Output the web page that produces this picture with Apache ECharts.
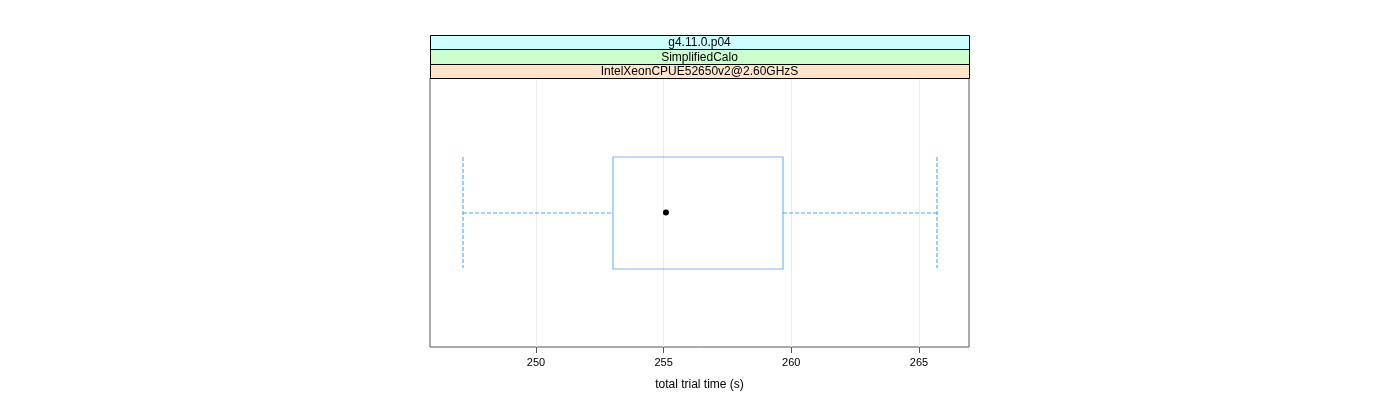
<!DOCTYPE html>
<html>
<head>
<meta charset="utf-8">
<script src="https://cdn.jsdelivr.net/npm/echarts@6/dist/echarts.min.js"></script>
<style>
html,body{margin:0;padding:0;background:#fff;}
#chart{width:1400px;height:400px;}
</style>
</head>
<body>
<div id="chart"></div>
<script>
// ---- data ----
const stripLabels = ['g4.11.0.p04', 'SimplifiedCalo', 'IntelXeonCPUE52650v2@2.60GHzS'];
const stripColors = ['#ccffff', '#ccffcc', '#ffe5cc'];
const lowWhisker = [247.15];
const lowerQuartile = [253.03];
const median = [255.09];
const upperQuartile = [259.67];
const highWhisker = [265.69];
const xTicks = [250, 255, 260, 265];
const xMin = 245.85, xMax = 266.96;
const xTitle = 'total trial time (s)';

const FONT = '"Liberation Sans", Arial, Helvetica, sans-serif';
const L = 430, W = 539, TOP = 78, H = 269, STRIP_TOP = 35;

const boxData = lowWhisker.map((v, i) => [v, lowerQuartile[i], median[i], upperQuartile[i], highWhisker[i], 0.5]);

const chart = echarts.init(document.getElementById('chart'), null, {renderer: 'canvas'});

const graphics = [];
const stripH = [14, 15, 14];
let y = STRIP_TOP;
for (let i = 0; i < stripLabels.length; i++) {
  graphics.push({
    type: 'rect', silent: true, z: 10,
    shape: {x: L + 0.5, y: y + 0.5, width: W, height: stripH[i]},
    style: {fill: stripColors[i], stroke: '#000', lineWidth: 1}
  });
  graphics.push({
    type: 'text', silent: true, z: 11,
    x: L + W / 2, y: y + stripH[i] / 2 + 1,
    style: {text: stripLabels[i], font: '12px ' + FONT, fill: '#000', align: 'center', verticalAlign: 'middle'}
  });
  y += stripH[i];
}

chart.setOption({
  animation: false,
  backgroundColor: '#fff',
  grid: [
    {left: L, width: W, top: TOP, height: H, show: true, borderColor: '#555', borderWidth: 1, backgroundColor: 'transparent'},
    {left: L, width: W, top: STRIP_TOP, height: TOP - STRIP_TOP, show: false}
  ],
  xAxis: [
    {
      type: 'value', gridIndex: 0, min: xMin, max: xMax, position: 'bottom',
      customValues: xTicks,
      axisLine: {show: false},
      axisTick: {show: true, inside: false, length: 6, lineStyle: {color: '#555'}, customValues: xTicks},
      axisLabel: {show: true, margin: 10, fontSize: 11, fontFamily: FONT, color: '#000', customValues: xTicks, formatter: v => String(v)},
      splitLine: {show: true, lineStyle: {color: '#ebebeb', width: 1}},
      name: xTitle, nameLocation: 'middle', nameGap: 32,
      nameTextStyle: {fontSize: 12, fontFamily: FONT, color: '#000'}
    },
    {
      type: 'value', gridIndex: 1, min: xMin, max: xMax, position: 'top',
      customValues: xTicks,
      axisLine: {show: false},
      axisTick: {show: true, inside: false, length: 6, lineStyle: {color: '#555'}, customValues: xTicks},
      axisLabel: {show: false},
      splitLine: {show: false}
    }
  ],
  yAxis: [
    {type: 'value', gridIndex: 0, min: 0, max: 1, show: false, splitLine: {show: false}},
    {type: 'value', gridIndex: 1, min: 0, max: 1, show: false, splitLine: {show: false}}
  ],
  graphic: graphics,
  series: [{
    type: 'custom',
    xAxisIndex: 0, yAxisIndex: 0,
    encode: {x: [0, 1, 2, 3, 4], y: 5},
    data: boxData,
    clip: false,
    renderItem: function (params, api) {
      const lo = api.value(0), q1 = api.value(1), med = api.value(2), q3 = api.value(3), hi = api.value(4), yc = api.value(5);
      const half = 0.208;
      const pLo = api.coord([lo, yc]);
      const pQ1 = api.coord([q1, yc]);
      const pMed = api.coord([med, yc]);
      const pQ3 = api.coord([q3, yc]);
      const pHi = api.coord([hi, yc]);
      const yTop = api.coord([q1, yc + half])[1];
      const yBot = api.coord([q1, yc - half])[1];
      const dash = () => ({stroke: '#0080ff', lineWidth: 1.1, lineDash: [4, 2], fill: 'none', opacity: 0.7});
      const r = v => Math.round(v);
      const seg = (x1, y1, x2, y2) => ({type: 'polyline', shape: {points: [[x1, y1], [x2, y2]]}, style: dash()});
      return {
        type: 'group',
        children: [
          seg(r(pLo[0]), r(pLo[1]), r(pQ1[0]), r(pQ1[1])),
          seg(r(pQ3[0]), r(pQ3[1]), r(pHi[0]), r(pHi[1])),
          seg(r(pLo[0]), r(yTop), r(pLo[0]), r(yBot)),
          seg(r(pHi[0]), r(yTop), r(pHi[0]), r(yBot)),
          {type: 'rect', shape: {x: r(pQ1[0]), y: r(yTop), width: Math.round(pQ3[0] - pQ1[0]), height: Math.round(yBot - yTop)},
            style: {stroke: '#0080ff', lineWidth: 1.2, fill: 'none', opacity: 0.55}},
          {type: 'circle', shape: {cx: pMed[0], cy: pMed[1], r: 3}, style: {fill: '#000'}}
        ]
      };
    }
  }]
});
</script>
</body>
</html>
